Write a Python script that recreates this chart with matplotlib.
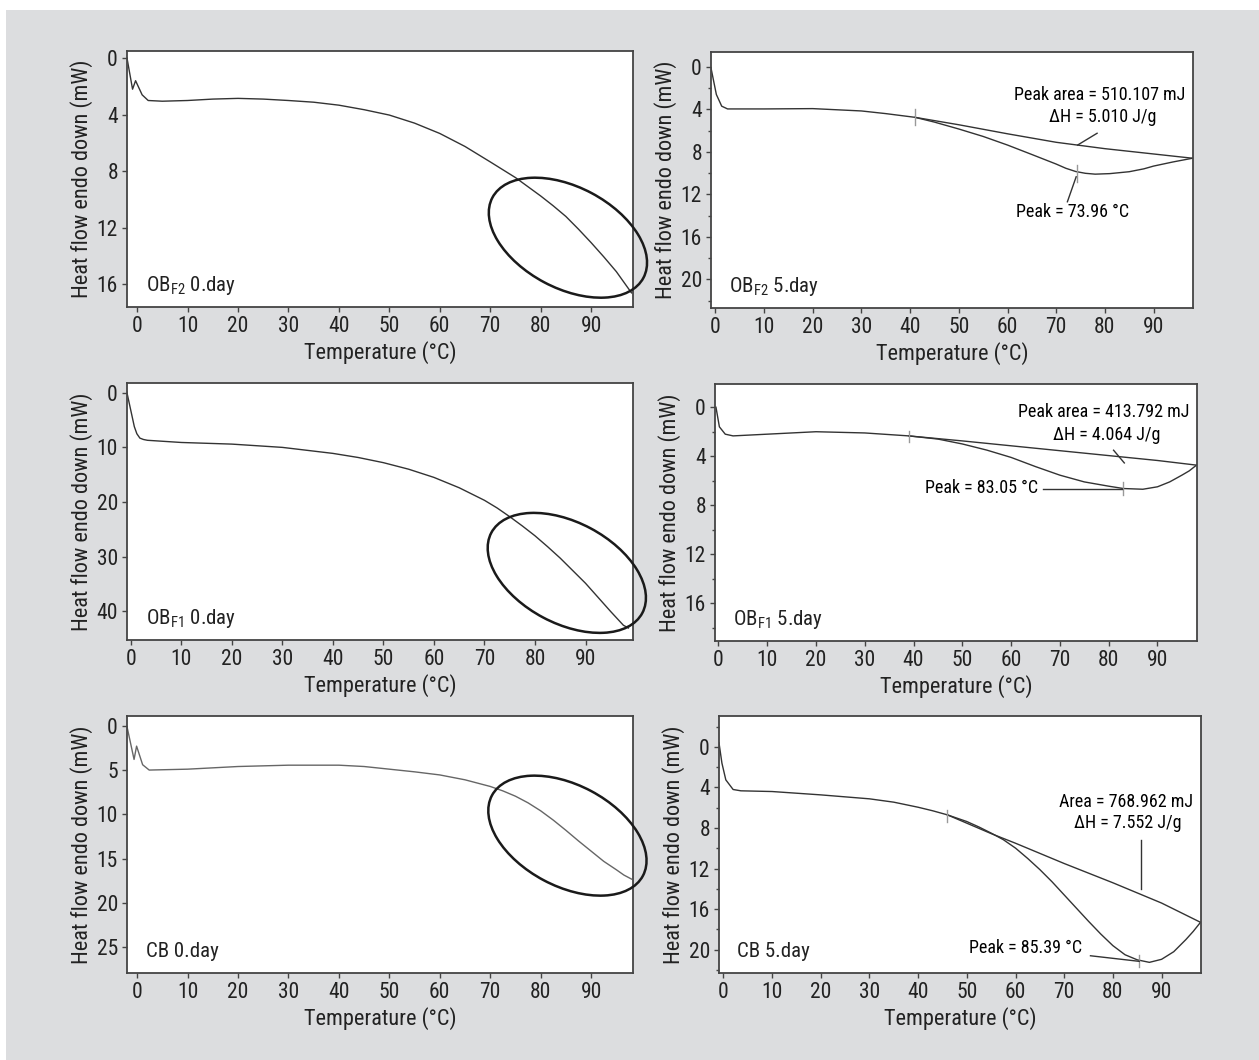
import matplotlib
matplotlib.use('Agg')
import matplotlib.pyplot as plt
import matplotlib.transforms as mtransforms
from matplotlib.patches import Ellipse, Rectangle
from matplotlib.ticker import MultipleLocator

FONT = ['Roboto Condensed', 'DejaVu Sans']
plt.rcParams.update({
    'font.family': FONT,
    'mathtext.fontset': 'custom',
    'mathtext.rm': 'Roboto Condensed',
    'mathtext.it': 'Roboto Condensed',
    'axes.edgecolor': '#444444',
    'axes.linewidth': 1.3,
    'xtick.color': '#444444',
    'ytick.color': '#444444',
    'xtick.labelcolor': '#222222',
    'ytick.labelcolor': '#222222',
})

# ---- data (temperature in degC, heat flow in mW) ----
# OB_F2 0.day
t_obf2_0 = [-2.0, -0.9, -0.3, 1.0, 2.2, 5, 10, 15, 20, 25, 30, 35, 40, 45, 50, 55, 60, 65, 70,
            75, 80, 82.5, 85, 87.5, 90, 92.5, 95, 97, 98]
h_obf2_0 = [0.0, 2.2, 1.6, 2.6, 3.0, 3.05, 3.0, 2.9, 2.85, 2.9, 3.0, 3.12, 3.33, 3.65, 4.03, 4.6,
            5.33, 6.25, 7.34, 8.45, 9.75, 10.45, 11.2, 12.1, 13.05, 14.05, 15.1, 16.1, 16.6]

# OB_F2 5.day
t_obf2_5 = [-0.9, 0.2, 1.3, 2.5, 10, 20, 30, 35, 41, 45, 50, 55, 60, 65, 70, 72, 74, 76, 78,
            81, 85, 88, 90, 94, 98]
h_obf2_5 = [0.1, 2.6, 3.7, 3.96, 3.96, 3.93, 4.15, 4.4, 4.75, 5.2, 5.85, 6.55, 7.36, 8.25, 9.15,
            9.55, 9.85, 10.02, 10.1, 10.05, 9.87, 9.6, 9.34, 8.95, 8.6]
tb_obf2_5 = [41, 50, 60, 70, 80, 90, 98]
hb_obf2_5 = [4.75, 5.45, 6.3, 7.1, 7.7, 8.2, 8.6]

# OB_F1 0.day
t_obf1_0 = [-0.8, 0.7, 1.2, 1.8, 2.5, 3.3, 10, 20, 30, 40, 45, 50, 55, 60, 65, 70, 72.5, 75,
            77.5, 80, 82.5, 85, 87.5, 90, 92.5, 95, 97.5, 98.5]
h_obf1_0 = [-0.2, 6.2, 7.5, 8.3, 8.55, 8.7, 9.1, 9.4, 10.0, 11.1, 11.85, 12.8, 14.0, 15.5, 17.4,
            19.7, 21.1, 22.7, 24.4, 26.2, 28.2, 30.3, 32.6, 34.9, 37.5, 40.1, 42.6, 43.1]

# OB_F1 5.day
t_obf1_5 = [-0.5, 0.2, 1.4, 3, 10, 20, 30, 39, 45, 50, 55, 60, 65, 70, 75, 80, 83, 87, 90,
            92.5, 95, 96.5, 98]
h_obf1_5 = [0.0, 1.6, 2.2, 2.34, 2.2, 2.0, 2.1, 2.34, 2.6, 3.0, 3.5, 4.1, 4.85, 5.55, 6.1, 6.45,
            6.64, 6.7, 6.5, 6.1, 5.55, 5.2, 4.73]
tb_obf1_5 = [39, 50, 60, 70, 80, 90, 98]
hb_obf1_5 = [2.34, 2.75, 3.15, 3.55, 3.95, 4.35, 4.73]

# CB 0.day
t_cb_0 = [-2.0, -0.6, -0.1, 1.1, 2.4, 10, 20, 30, 40, 45, 50, 55, 60, 65, 70, 72.5, 75, 77.5,
          80, 82.5, 85, 87.5, 90, 92.5, 95, 96.5, 98]
h_cb_0 = [0.1, 3.8, 2.3, 4.4, 5.0, 4.9, 4.6, 4.45, 4.45, 4.6, 4.9, 5.2, 5.55, 6.1, 6.85, 7.35,
          7.95, 8.7, 9.6, 10.65, 11.8, 13.0, 14.15, 15.3, 16.25, 16.85, 17.3]

# CB 5.day
t_cb_5 = [-0.9, -0.3, 0.5, 2, 3.6, 10, 20, 30, 35, 40, 43, 46, 50, 52.5, 55, 57.5, 60, 62.5,
          65, 67.5, 70, 72.5, 75, 77.5, 80, 82.5, 85, 87.5, 90, 92.5, 95, 96.5, 98]
h_cb_5 = [-0.4, 1.6, 3.25, 4.2, 4.33, 4.4, 4.73, 5.12, 5.45, 5.95, 6.3, 6.7, 7.36, 7.9, 8.5, 9.15,
          9.98, 11.0, 12.1, 13.3, 14.6, 15.9, 17.2, 18.45, 19.6, 20.5, 21.0, 21.25, 20.95, 20.2,
          19.0, 18.2, 17.3]
tb_cb_5 = [46, 55, 60, 70, 80, 90, 98]
hb_cb_5 = [6.7, 8.55, 9.5, 11.5, 13.4, 15.4, 17.3]

PANEL_LABELS = [r'OB$_{\rm F2}$ 0.day', r'OB$_{\rm F2}$ 5.day',
                r'OB$_{\rm F1}$ 0.day', r'OB$_{\rm F1}$ 5.day',
                'CB 0.day', 'CB 5.day']

W, H = 1259, 1060
fig = plt.figure(figsize=(W / 100, H / 100), dpi=100, facecolor='white')
fig.patches.append(Rectangle((6 / W, 0), 1, 1 - 10 / H, transform=fig.transFigure,
                             facecolor='#dcdddf', edgecolor='none', zorder=-10))


def make_ax(left, top, right, bottom):
    return fig.add_axes([left / W, 1 - bottom / H, (right - left) / W, (bottom - top) / H])


axes = [
    make_ax(127, 51, 633, 307), make_ax(711, 52, 1193, 308),
    make_ax(127, 383, 633, 640), make_ax(715, 384, 1197, 641),
    make_ax(127, 716, 633, 973), make_ax(719, 716, 1201, 973),
]

ylims = [(17.6, -0.5), (22.7, -1.4), (45.3, -1.8), (19.1, -1.9), (27.9, -1.1), (22.3, -3.05)]
xlims = [(-2, 98.3), (-0.9, 98.1), (-0.75, 99.4), (-0.7, 98.1), (-2, 98.3), (-0.9, 98.1)]
ymajor = [4, 4, 10, 4, 5, 4]
yminor = [None, 2, None, 2, None, 2]

for i, ax in enumerate(axes):
    ax.set_xlim(*xlims[i])
    ax.set_ylim(*ylims[i])
    ax.set_xticks(range(0, 100, 10))
    ax.yaxis.set_major_locator(MultipleLocator(ymajor[i]))
    if yminor[i]:
        ax.yaxis.set_minor_locator(MultipleLocator(yminor[i]))
        ax.tick_params(axis='y', which='minor', length=2.5, width=1)
    ax.tick_params(axis='both', which='major', length=3.5, width=1, labelsize=15.5, pad=3)
    ax.set_xlabel('Temperature (°C)', fontsize=16, color='#222222', labelpad=3)
    ax.set_ylabel('Heat flow endo down (mW)', fontsize=16, color='#222222', labelpad=2.5)
    ax.text(0.038, 0.085, PANEL_LABELS[i], transform=ax.transAxes, fontsize=15,
            color='#222222', va='center', ha='left')

curve_kw = dict(color='#333333', lw=1.0)
mark_kw = dict(color='#999999', lw=1.0)
ann_kw = dict(color='#333333', lw=1.0)

# left column: 0.day curves with circled regions
axes[0].plot(t_obf2_0, h_obf2_0, **curve_kw)
axes[2].plot(t_obf1_0, h_obf1_0, **curve_kw)
axes[4].plot(t_cb_0, h_cb_0, color='#666666', lw=1.0)

ellipse_centres = [(0, 85.4, 12.7), (2, 86.3, 33.0), (4, 85.3, 12.4)]
for idx, cx, cy in ellipse_centres:
    ax = axes[idx]
    tr = fig.dpi_scale_trans + mtransforms.ScaledTranslation(cx, cy, ax.transData)
    ax.add_patch(Ellipse((0, 0), 1.71, 1.01, angle=-28, transform=tr, fill=False,
                         edgecolor='#1a1a1a', lw=1.8, clip_on=False, zorder=5))

# OB_F2 5.day
ax = axes[1]
ax.plot(t_obf2_5, h_obf2_5, **curve_kw)
ax.plot(tb_obf2_5, hb_obf2_5, **curve_kw)
ax.plot([41, 41], [4.0, 5.5], **mark_kw)
ax.plot([74.2, 74.2], [9.2, 10.8], **mark_kw)
ax.plot([78.4, 74.4], [6.25, 7.36], **ann_kw)
ax.plot([74.1, 72.3], [10.35, 12.7], **ann_kw)
ax.text(96.5, 2.64, 'Peak area = 510.107 mJ', ha='right', va='center', fontsize=13)
ax.text(79.5, 4.75, 'ΔH = 5.010 J/g', ha='center', va='center', fontsize=13)
ax.text(73.3, 13.65, 'Peak = 73.96 °C', ha='center', va='center', fontsize=13)

# OB_F1 5.day
ax = axes[3]
ax.plot(t_obf1_5, h_obf1_5, **curve_kw)
ax.plot(tb_obf1_5, hb_obf1_5, **curve_kw)
ax.plot([39, 39], [1.9, 2.8], **mark_kw)
ax.plot([83, 83], [6.1, 7.2], **mark_kw)
ax.plot([81, 83.2], [3.51, 4.55], **ann_kw)
ax.plot([66.5, 82.7], [6.64, 6.64], **ann_kw)
ax.text(96.5, 0.38, 'Peak area = 413.792 mJ', ha='right', va='center', fontsize=13)
ax.text(79.5, 2.29, 'ΔH = 4.064 J/g', ha='center', va='center', fontsize=13)
ax.text(65.6, 6.56, 'Peak = 83.05 °C', ha='right', va='center', fontsize=13)

# CB 5.day
ax = axes[5]
ax.plot(t_cb_5, h_cb_5, **curve_kw)
ax.plot(tb_cb_5, hb_cb_5, **curve_kw)
ax.plot([46, 46], [6.2, 7.4], **mark_kw)
ax.plot([85.4, 85.4], [20.5, 21.7], **mark_kw)
ax.plot([85.8, 85.8], [9.16, 14.0], **ann_kw)
ax.plot([75.4, 85.4], [20.6, 21.15], **ann_kw)
ax.text(96.4, 5.4, 'Area = 768.962 mJ', ha='right', va='center', fontsize=13)
ax.text(83, 7.5, 'ΔH = 7.552 J/g', ha='center', va='center', fontsize=13)
ax.text(73.6, 19.8, 'Peak = 85.39 °C', ha='right', va='center', fontsize=13)

fig.savefig('out.png', dpi=100, facecolor='white')
